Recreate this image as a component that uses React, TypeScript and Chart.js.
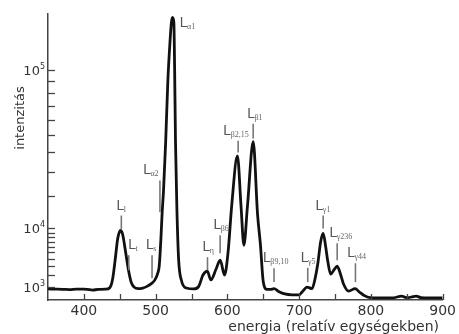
import React, { useEffect, useRef } from "react";
import { Chart, registerables } from "chart.js";

Chart.register(...registerables);

// Spectrum (energy in relative units, intensity in counts)
const energy = [
  350, 360, 370, 380, 390, 400, 405, 412, 420, 430, 436, 440, 444, 447, 451, 454, 458, 462, 466, 470,
  476, 482, 488, 494, 499, 503, 505, 507.5, 509, 511, 514, 517, 520, 522, 523.5, 525.4, 526.5, 527.7, 529.6, 532,
  536, 543, 553, 560, 566, 572, 577, 584, 590, 596, 601, 606, 614, 619, 623, 628, 636, 642, 646, 650,
  655, 660, 665, 672, 680, 690, 700, 705, 711, 718, 722, 726, 730, 733.5, 737, 740, 744, 749, 753, 758,
  762, 769, 778, 784, 790, 799, 810, 830, 843, 848, 852, 857, 863, 870, 880, 900,
];
const intensity = [
  880, 870, 860, 845, 875, 870, 850, 815, 850, 865, 950, 1600, 4200, 7500, 9500, 8600, 5200, 2600, 1350, 1000,
  900, 940, 1050, 1250, 1550, 2200, 3000, 8000, 14000, 22000, 46000, 90000, 128000, 150000, 156000, 150000, 100000, 46000, 16000, 4000,
  1500, 940, 880, 1050, 2000, 2400, 1550, 2600, 3800, 2000, 5100, 16500, 38000, 16500, 6300, 16500, 46000, 14000, 6500, 1400,
  860, 850, 900, 720, 600, 560, 560, 750, 1000, 900, 1600, 3300, 7000, 8800, 6000, 3600, 2100, 2600, 3000, 2000,
  1200, 750, 900, 700, 540, 430, 420, 420, 500, 440, 430, 460, 500, 430, 420, 420,
];

const xMin = 350;
const xMax = 900;
const xStep = 50;
const yMin = 340;
const yMax = 160000;
const yMajor = [1000, 10000, 100000];
const yMinor = [2000, 3000, 4000, 5000, 6000, 7000, 8000, 9000, 20000, 30000, 40000, 50000, 60000, 70000, 80000, 90000];

const xAxisTitle = "energia (relatív egységekben)";
const yAxisTitle = "intenzitás";

// Line annotations: subscript, marker energy, label start energy, line top / bottom intensity (null = no marker line)
const annSub = ["l", "t", "s", "α2", "α1", "η", "β6", "β2,15", "β1", "β9,10", "γ5", "γ1", "γ236", "γ44"];
const annEnergy = [452.2, 462.6, 495, 506, 545, 572.3, 589.9, 615, 636, 665, 712, 733.5, 753, 778.5];
const annLabelEnergy = [445.3, 461.9, 486.7, 482.6, 533.7, 565.4, 580.6, 594.4, 627.6, 649.7, 702.2, 722.9, 742.2, 767.1];
const annTop = [13500, 4560, 4560, 26200, 138000, 4250, 8380, 46600, 57400, 2750, 2800, 13500, 6680, 3380];
const annBottom: (number | null)[] = [9750, 2520, 1700, 14450, null, 2520, 4880, 39800, 47900, 1370, 1370, 10000, 3800, 1370];

const P = 0.43;
const tf = (v: number) => Math.pow(v, P);

export default function App() {
  const ref = useRef<HTMLCanvasElement>(null);

  useEffect(() => {
    const canvas = ref.current!;
    const deco = {
      id: "deco",
      afterDraw(chart: any) {
        const ctx = chart.ctx as CanvasRenderingContext2D;
        const xs = chart.scales.x;
        const ys = chart.scales.y;
        const { left, bottom } = chart.chartArea;
        ctx.save();
        // inward tick marks
        ctx.strokeStyle = "#444";
        ctx.lineWidth = 1.3;
        [...yMajor, ...yMinor].forEach((v) => {
          const py = Math.round(ys.getPixelForValue(tf(v))) + 0.5;
          ctx.beginPath();
          ctx.moveTo(left, py);
          ctx.lineTo(left + 7, py);
          ctx.stroke();
        });
        xs.ticks.forEach((t: any) => {
          if (t.value <= xMin) return;
          const px = Math.round(xs.getPixelForValue(t.value)) + 0.5;
          ctx.beginPath();
          ctx.moveTo(px, bottom);
          ctx.lineTo(px, bottom - 6);
          ctx.stroke();
        });
        // y labels 10^n
        ctx.fillStyle = "#333";
        yMajor.forEach((v) => {
          const py = ys.getPixelForValue(tf(v));
          const exp = String(Math.round(Math.log10(v)));
          ctx.font = "8px 'DejaVu Sans'";
          const we = ctx.measureText(exp).width;
          ctx.textBaseline = "alphabetic";
          ctx.textAlign = "right";
          ctx.fillText(exp, left - 3, py - 1);
          ctx.font = "13px 'DejaVu Sans'";
          ctx.fillText("10", left - 3 - we, py + 5);
        });
        // annotations
        annSub.forEach((sub, i) => {
          const px = xs.getPixelForValue(annEnergy[i]);
          const pyTop = ys.getPixelForValue(tf(annTop[i]));
          const b = annBottom[i];
          if (b !== null) {
            const pyBot = ys.getPixelForValue(tf(b));
            ctx.strokeStyle = "#777";
            ctx.lineWidth = 1.6;
            ctx.beginPath();
            ctx.moveTo(px, pyTop);
            ctx.lineTo(px, pyBot);
            ctx.stroke();
          }
          ctx.textAlign = "left";
          ctx.textBaseline = "alphabetic";
          const x0 = xs.getPixelForValue(annLabelEnergy[i]);
          const base = pyTop - 6;
          ctx.fillStyle = "#555";
          ctx.font = "14px 'Liberation Sans'";
          const wL = ctx.measureText("L").width;
          ctx.fillText("L", x0, base);
          ctx.fillStyle = "#666";
          ctx.font = "8px 'Liberation Serif'";
          ctx.fillText(sub, x0 + wL - 0.5, base + 2);
        });
        // axis titles
        ctx.fillStyle = "#333";
        ctx.font = "14px 'DejaVu Sans'";
        ctx.textAlign = "right";
        ctx.textBaseline = "alphabetic";
        ctx.fillText(xAxisTitle, 439, 331);
        ctx.save();
        ctx.translate(24, 118);
        ctx.rotate(-Math.PI / 2);
        ctx.textAlign = "center";
        ctx.font = "13px 'DejaVu Sans'";
        ctx.fillText(yAxisTitle, 0, 0);
        ctx.restore();
        ctx.restore();
      },
    };

    const chart = new Chart(canvas, {
      type: "line",
      data: {
        datasets: [
          {
            data: energy.map((e, i) => ({ x: e, y: tf(intensity[i]) })),
            borderColor: "#111",
            borderWidth: 2.8,
            pointRadius: 0,
            cubicInterpolationMode: "monotone",
            fill: false,
          },
        ],
      },
      options: {
        animation: false,
        responsive: false,
        devicePixelRatio: 1,
        events: [],
        layout: { padding: { top: 14, right: 13, left: 0, bottom: 0 } },
        plugins: { legend: { display: false }, tooltip: { enabled: false } },
        scales: {
          x: {
            type: "linear",
            min: xMin,
            max: xMax,
            afterFit: (s: any) => {
              s.height = 34;
            },
            grid: { display: false, drawTicks: false },
            border: { display: true, color: "#444", width: 1.5 },
            ticks: {
              stepSize: xStep,
              autoSkip: false,
              maxRotation: 0,
              padding: 3,
              color: "#333",
              font: { family: "DejaVu Sans", size: 14 },
              callback: (v: any) => (Number(v) % 100 === 0 ? String(v) : ""),
            },
          },
          y: {
            type: "linear",
            min: tf(yMin),
            max: tf(yMax),
            afterFit: (s: any) => {
              s.width = 48;
            },
            afterBuildTicks: (s: any) => {
              s.ticks = yMajor.map((v) => ({ value: tf(v) }));
            },
            grid: { display: false, drawTicks: false },
            border: { display: true, color: "#444", width: 1.5 },
            ticks: { display: false },
          },
        },
      },
      plugins: [deco],
    } as any);
    return () => chart.destroy();
  }, []);

  return (
    <div style={{ position: "fixed", left: 0, top: 0, width: 459, height: 334, background: "#fff" }}>
      <canvas ref={ref} width={459} height={334} style={{ display: "block" }} />
    </div>
  );
}
